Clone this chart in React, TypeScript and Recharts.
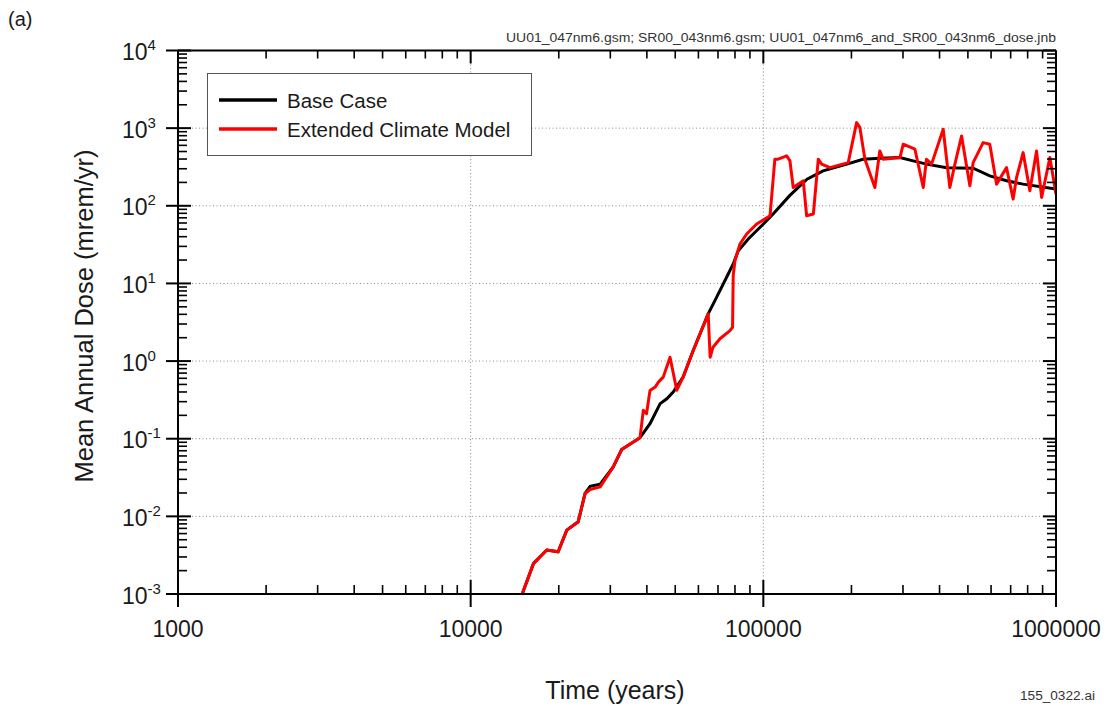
import React from 'react';
import { LineChart, Line, XAxis, YAxis, ReferenceLine, Legend } from 'recharts';

const FONT = '"Liberation Sans", Arial, Helvetica, sans-serif';

// ---- axis ticks ----
const xMajorTicks = [1000, 10000, 100000, 1000000];
const xTickLabels = ['1000', '10000', '100000', '1000000'];
const yMajorTicks = [0.001, 0.01, 0.1, 1, 10, 100, 1000, 10000];
const yExponents = ['-3', '-2', '-1', '0', '1', '2', '3', '4'];
const minorMultipliers = [2, 3, 4, 5, 6, 7, 8, 9];
const xGridValues = [10000, 100000];
const yGridValues = [0.01, 0.1, 1, 10, 100, 1000];

// ---- Base Case ----
const baseTime = [15000, 16400, 18200, 19900, 21300, 23300, 24600, 25600, 27700, 30700, 32800, 37900, 41000, 44400, 46800, 49200, 53200, 57600, 64800, 69200, 74900, 78900, 82100, 88800, 97300, 108000, 123000, 141000, 160000, 193000, 219000, 250000, 293000, 325000, 361000, 423000, 521000, 594000, 678000, 772000, 1000000];
const baseDose = [0.001, 0.00248, 0.00368, 0.0035, 0.00665, 0.0085, 0.0197, 0.0244, 0.026, 0.0433, 0.0724, 0.103, 0.156, 0.283, 0.327, 0.398, 0.621, 1.37, 4.06, 6.6, 12.0, 17.8, 26.4, 37.3, 52.6, 78.2, 135, 220, 282, 344, 398, 410, 418, 379, 344, 310, 305, 243, 210, 190, 164];

// ---- Extended Climate Model ----
const extTime = [15000, 16400, 18200, 19900, 21300, 23300, 24600, 25600, 27700, 30700, 32800, 37900, 38900, 39900, 41000, 42700, 43800, 45500, 48000, 50600, 53200, 57600, 64800, 65800, 67300, 71100, 76900, 78500, 78900, 80000, 83200, 87700, 94900, 105400, 109500, 112400, 120200, 123300, 126500, 136900, 140600, 148200, 154100, 158200, 169000, 195000, 208300, 213800, 222400, 240500, 250000, 256800, 293000, 300600, 329600, 351900, 361000, 375700, 411700, 433800, 451400, 475800, 507800, 521000, 563700, 594000, 626600, 677500, 713900, 733000, 772000, 814000, 858000, 893000, 953000, 1000000];
const extDose = [0.001, 0.00248, 0.00368, 0.0035, 0.00665, 0.0085, 0.0197, 0.0222, 0.024, 0.0433, 0.0724, 0.103, 0.232, 0.21, 0.419, 0.462, 0.536, 0.621, 1.12, 0.42, 0.621, 1.37, 4.06, 1.12, 1.51, 1.94, 2.47, 2.73, 12.6, 19.6, 32.2, 43.3, 58.2, 74.4, 398, 398, 439, 379, 172, 210, 74.4, 78.2, 398, 344, 310, 360, 1178, 1014, 398, 172, 509, 398, 418, 621, 535, 172, 398, 344, 968, 172, 344, 794, 181, 360, 651, 621, 190, 310, 122, 231, 484, 156, 509, 128, 418, 141];

const seriesNames = ['Base Case', 'Extended Climate Model'];
const seriesColors = ['#000000', '#ff0000'];

const baseData = baseTime.map((t, i) => ({ time: t, dose: baseDose[i] }));
const extData = extTime.map((t, i) => ({ time: t, dose: extDose[i] }));

const minorOf = (majors: number[]) =>
  majors.slice(0, -1).flatMap((m) => minorMultipliers.map((k) => parseFloat((m * k).toPrecision(6))));
const xAllTicks = [...xMajorTicks, ...minorOf(xMajorTicks)];
const yAllTicks = [...yMajorTicks, ...minorOf(yMajorTicks)];

const isMajor = (v: number) => {
  const l = Math.log10(v);
  return Math.abs(l - Math.round(l)) < 1e-6;
};

const BottomTick = (props: any) => {
  const { x, y, payload } = props;
  const v = payload.value;
  if (isMajor(v)) {
    const idx = xMajorTicks.findIndex((m) => Math.abs(Math.log10(m) - Math.log10(v)) < 1e-6);
    return (
      <g>
        <line x1={x} x2={x} y1={y - 14} y2={y + 13} stroke="#000" strokeWidth={2} />
        <text x={x} y={y + 42.5} textAnchor="middle" fontFamily={FONT} fontSize={23} fill="#1a1a1a">
          {xTickLabels[idx]}
        </text>
      </g>
    );
  }
  return <line x1={x} x2={x} y1={y} y2={y - 9} stroke="#000" strokeWidth={1.6} />;
};

const TopTick = (props: any) => {
  const { x, y, payload } = props;
  const major = isMajor(payload.value);
  return <line x1={x} x2={x} y1={y} y2={y + (major ? 13 : 8)} stroke="#000" strokeWidth={major ? 2 : 1.6} />;
};

const LeftTick = (props: any) => {
  const { x, y, payload } = props;
  const v = payload.value;
  if (isMajor(v)) {
    const idx = yMajorTicks.findIndex((m) => Math.abs(Math.log10(m) - Math.log10(v)) < 1e-6);
    return (
      <g>
        <line x1={x - 12} x2={x + 13} y1={y} y2={y} stroke="#000" strokeWidth={2} />
        <text x={x - 56} y={y + 9.5} textAnchor="start" fontFamily={FONT} fontSize={23} fill="#1a1a1a">
          10
          <tspan dy={-10} fontSize={15}>{yExponents[idx]}</tspan>
        </text>
      </g>
    );
  }
  return <line x1={x} x2={x + 9} y1={y} y2={y} stroke="#000" strokeWidth={1.6} />;
};

const RightTick = (props: any) => {
  const { x, y, payload } = props;
  const major = isMajor(payload.value);
  return <line x1={x} x2={x - (major ? 13 : 9)} y1={y} y2={y} stroke="#000" strokeWidth={major ? 2 : 1.6} />;
};

const LegendBox = () => (
  <div
    style={{
      width: 325,
      height: 83,
      border: '1.5px solid #555',
      boxSizing: 'border-box',
      background: '#fff',
      position: 'relative',
    }}
  >
    <svg width={325} height={83} style={{ position: 'absolute', left: -1.5, top: -1.5 }}>
      {seriesNames.map((n, i) => (
        <g key={n}>
          <line x1={12} x2={70} y1={27 + i * 29} y2={27 + i * 29} stroke={seriesColors[i]} strokeWidth={3.5} />
          <text x={80} y={27 + i * 29 + 7.5} fontFamily={FONT} fontSize={20.5} fill="#1a1a1a">
            {n}
          </text>
        </g>
      ))}
    </svg>
  </div>
);

const gridStroke = { stroke: '#8c8c8c', strokeWidth: 1, strokeDasharray: '1 2.5' };

export default function App() {
  return (
    <div style={{ position: 'absolute', left: 0, top: 0, width: 1105, height: 706, background: '#fff' }}>
      <LineChart width={1105} height={706} margin={{ top: 0, right: 0, bottom: 0, left: 0 }}>
        <XAxis
          xAxisId="b"
          dataKey="time"
          type="number"
          scale="log"
          domain={[1000, 1000000]}
          allowDataOverflow
          ticks={xAllTicks}
          interval={0}
          orientation="bottom"
          height={112}
          tickSize={0}
          tickMargin={0}
          tickLine={false}
          tick={BottomTick}
          axisLine={{ stroke: '#000', strokeWidth: 2 }}
        />
        <XAxis
          xAxisId="t"
          dataKey="time"
          type="number"
          scale="log"
          domain={[1000, 1000000]}
          allowDataOverflow
          ticks={xAllTicks}
          interval={0}
          orientation="top"
          height={50.5}
          tickSize={0}
          tickMargin={0}
          tickLine={false}
          tick={TopTick}
          axisLine={{ stroke: '#000', strokeWidth: 2 }}
        />
        <YAxis
          yAxisId="l"
          dataKey="dose"
          type="number"
          scale="log"
          domain={[0.001, 10000]}
          allowDataOverflow
          ticks={yAllTicks}
          interval={0}
          orientation="left"
          width={178}
          tickSize={0}
          tickMargin={0}
          tickLine={false}
          tick={LeftTick}
          axisLine={{ stroke: '#000', strokeWidth: 2 }}
        />
        <YAxis
          yAxisId="r"
          dataKey="dose"
          type="number"
          scale="log"
          domain={[0.001, 10000]}
          allowDataOverflow
          ticks={yAllTicks}
          interval={0}
          orientation="right"
          width={49}
          tickSize={0}
          tickMargin={0}
          tickLine={false}
          tick={RightTick}
          axisLine={{ stroke: '#000', strokeWidth: 2 }}
        />
        {xGridValues.map((v) => (
          <ReferenceLine key={'gx' + v} x={v} xAxisId="b" yAxisId="l" {...gridStroke} />
        ))}
        {yGridValues.map((v) => (
          <ReferenceLine key={'gy' + v} y={v} xAxisId="b" yAxisId="l" {...gridStroke} />
        ))}
        <Line
          name={seriesNames[0]}
          data={baseData}
          dataKey="dose"
          xAxisId="b"
          yAxisId="l"
          type="linear"
          stroke={seriesColors[0]}
          strokeWidth={3}
          dot={false}
          isAnimationActive={false}
        />
        <Line
          name={seriesNames[1]}
          data={extData}
          dataKey="dose"
          xAxisId="b"
          yAxisId="l"
          type="linear"
          stroke={seriesColors[1]}
          strokeWidth={3}
          strokeLinejoin="round"
          dot={false}
          isAnimationActive={false}
        />
        <Legend
          layout="vertical"
          align="center"
          verticalAlign="middle"
          content={() => <LegendBox />}
          wrapperStyle={{ position: 'absolute', left: 207, top: 73, width: 325, height: 83 }}
        />
      </LineChart>
      <svg
        width={1105}
        height={706}
        style={{ position: 'absolute', left: 0, top: 0, pointerEvents: 'none' }}
      >
        <text x={8} y={26} fontFamily={FONT} fontSize={20} fill="#1a1a1a">(a)</text>
        <text
          x={1056}
          y={42}
          textAnchor="end"
          fontFamily={FONT}
          fontSize={12}
          fill="#333"
          textLength={550}
          lengthAdjust="spacingAndGlyphs"
        >
          UU01_047nm6.gsm; SR00_043nm6.gsm; UU01_047nm6_and_SR00_043nm6_dose.jnb
        </text>
        <text x={615} y={699} textAnchor="middle" fontFamily={FONT} fontSize={25} fill="#1a1a1a">
          Time (years)
        </text>
        <text
          x={93}
          y={316}
          textAnchor="middle"
          fontFamily={FONT}
          fontSize={25.5}
          fill="#1a1a1a"
          transform="rotate(-90 93 316)"
        >
          Mean Annual Dose (mrem/yr)
        </text>
        <text
          x={1095}
          y={700}
          textAnchor="end"
          fontFamily={FONT}
          fontSize={12}
          fill="#333"
          textLength={75}
          lengthAdjust="spacingAndGlyphs"
        >
          155_0322.ai
        </text>
      </svg>
    </div>
  );
}
